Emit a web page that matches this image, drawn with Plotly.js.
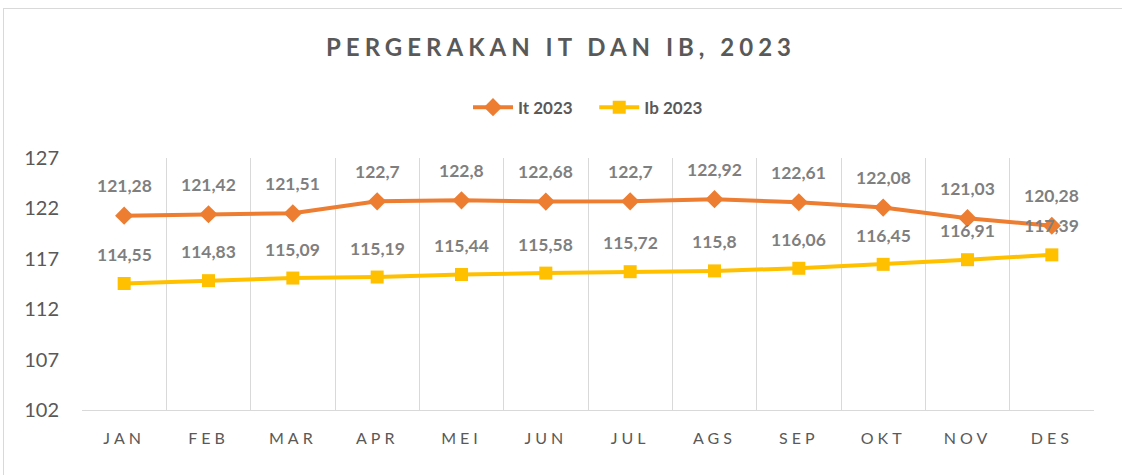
<!DOCTYPE html>
<html><head><meta charset="utf-8">
<script src="https://cdn.plot.ly/plotly-3.0.1.min.js"></script>
<style>body{margin:0;background:#fff}#frame{position:absolute;left:3px;top:8px;width:1130px;height:480px;border:1px solid #d9d9d9;pointer-events:none;box-sizing:border-box}</style>
</head><body>
<div id="chart" style="width:1122px;height:475px"></div>
<div id="frame"></div>
<script>
const months = ["JAN","FEB","MAR","APR","MEI","JUN","JUL","AGS","SEP","OKT","NOV","DES"];
const it2023 = [121.28,121.42,121.51,122.7,122.8,122.68,122.7,122.92,122.61,122.08,121.03,120.28];
const ib2023 = [114.55,114.83,115.09,115.19,115.44,115.58,115.72,115.8,116.06,116.45,116.91,117.39];
const yTicks = [102,107,112,117,122,127];

const fmt = v => String(v).replace('.', ',');
const gray = '#595959';
const labelGray = '#7f7f7f';
const pad = '\u00A0\u00A0\u00A0\u00A0';

const traces = [
  {x: months, y: it2023, name: 'It 2023' + pad, type: 'scatter', mode: 'lines+markers',
   line: {color: '#ED7D31', width: 4}, marker: {symbol: 'diamond', size: 14, color: '#ED7D31'}},
  {x: months, y: ib2023, name: 'Ib 2023', type: 'scatter', mode: 'lines+markers',
   line: {color: '#FFC000', width: 4}, marker: {symbol: 'square', size: 13, color: '#FFC000'}}
];

const annotations = [];
months.forEach((m, i) => {
  annotations.push({x: m, y: it2023[i], text: fmt(it2023[i]), showarrow: false, yshift: 30,
    font: {family: 'Lato, sans-serif', size: 17.5, color: labelGray, weight: 'bold'}});
  annotations.push({x: m, y: ib2023[i], text: fmt(ib2023[i]), showarrow: false, yshift: 29,
    font: {family: 'Lato, sans-serif', size: 17.5, color: labelGray, weight: 'bold'}});
});

const layout = {
  width: 1122, height: 475,
  margin: {l: 82, r: 28, t: 158, b: 65},
  paper_bgcolor: '#fff', plot_bgcolor: '#fff',
  separators: ',.',
  font: {family: 'Lato, sans-serif', color: gray},
  title: {text: '<span style="letter-spacing:5px">PERGERAKAN IT DAN IB, 2023</span>',
    x: 0.5, xanchor: 'center', y: 0.9, yref: 'container', yanchor: 'middle',
    font: {family: 'Lato, sans-serif', size: 24, color: gray, weight: 'bold'}},
  showlegend: true,
  legend: {orientation: 'h', x: 0.5, xanchor: 'center', y: 1.2, yanchor: 'middle',
    font: {family: 'Lato, sans-serif', size: 17, color: gray, weight: 'bold'}, itemwidth: 40},
  xaxis: {type: 'category', tickson: 'boundaries', showgrid: true, gridcolor: '#d9d9d9', gridwidth: 1,
    showline: true, linecolor: '#d9d9d9', linewidth: 1, ticks: '', zeroline: false,
    tickvals: months, ticktext: months.map(m => '<span style="letter-spacing:4px">' + m + '</span>'),
    tickfont: {family: 'Lato, sans-serif', size: 16, color: gray}, ticklabelstandoff: 14,
    range: [-0.5, 11.5]},
  yaxis: {range: [102, 127], tickvals: yTicks, showgrid: false, zeroline: false, showline: false,
    ticks: '', tickfont: {family: 'Lato, sans-serif', size: 20, color: gray}, ticklabelstandoff: 22},
  annotations: annotations
};

Plotly.newPlot('chart', traces, layout, {displayModeBar: false});
</script>
</body></html>
